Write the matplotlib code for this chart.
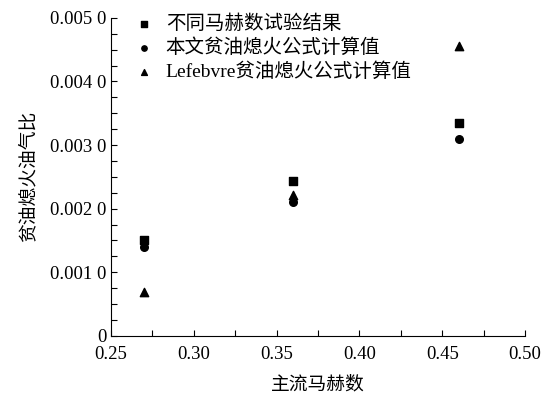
import matplotlib
matplotlib.use("Agg")
import matplotlib.pyplot as plt
from matplotlib.ticker import MultipleLocator, FixedLocator

# Mach number and lean blowout fuel-air ratio
mach = [0.27, 0.36, 0.46]
test_values = [0.00151, 0.00244, 0.00335]
this_formula = [0.00139, 0.00210, 0.00310]
lefebvre_formula = [0.00069, 0.00221, 0.00456]

labels = ["不同马赫数试验结果", "本文贫油熄火公式计算值", "Lefebvre贫油熄火公式计算值"]
y_ticks = [0, 0.001, 0.002, 0.003, 0.004, 0.005]
y_tick_labels = ["0", "0.001 0", "0.002 0", "0.003 0", "0.004 0", "0.005 0"]
x_ticks = [0.25, 0.30, 0.35, 0.40, 0.45, 0.50]

serif = ["Liberation Serif", "Noto Sans CJK SC"]
cjk = ["Noto Sans CJK SC", "Liberation Serif"]

fig = plt.figure(figsize=(5.58, 3.97), dpi=100)
ax = fig.add_axes([0.199, 0.154, 0.742, 0.801])

ax.scatter(mach, test_values, marker="s", s=28, color="black", label=labels[0])
ax.scatter(mach, this_formula, marker="o", s=30, color="black", label=labels[1])
ax.scatter(mach, lefebvre_formula, marker="^", s=36, color="black", label=labels[2])

ax.set_xlim(0.25, 0.50)
ax.set_ylim(0, 0.005)
ax.xaxis.set_major_locator(FixedLocator(x_ticks))
ax.xaxis.set_minor_locator(MultipleLocator(0.025))
ax.yaxis.set_major_locator(FixedLocator(y_ticks))
ax.yaxis.set_minor_locator(MultipleLocator(0.00025))
ax.set_xticklabels(["%.2f" % v for v in x_ticks], family=serif, fontsize=13.5)
ax.set_yticklabels(y_tick_labels, family=serif, fontsize=13.5)

ax.spines["top"].set_visible(False)
ax.spines["right"].set_visible(False)
ax.tick_params(which="both", direction="in", length=4, width=0.8)
ax.tick_params(axis="x", pad=7)

ax.set_xlabel("主流马赫数", family=cjk, fontsize=13.5, labelpad=8)
ax.set_ylabel("贫油熄火油气比", family=cjk, fontsize=13.5, labelpad=8)

leg = ax.legend(loc="upper left", bbox_to_anchor=(0.01, 1.065), frameon=False,
                prop={"family": serif, "size": 14}, handletextpad=0.5,
                handlelength=1.2, labelspacing=0.28, markerscale=0.7)

fig.savefig("out.png", dpi=100)
